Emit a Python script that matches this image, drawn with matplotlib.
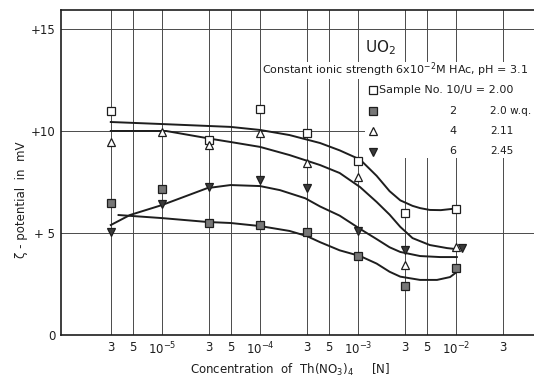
import numpy as np
import matplotlib
matplotlib.use("Agg")
import matplotlib.pyplot as plt
from matplotlib.patches import Rectangle

INK = "#1e1e1e"
GRIDC = "#4a4a4a"

# ── measured points (concentration [N], zeta potential [mV]) ──────────────
conc_pts = [3e-6, 1e-5, 3e-5, 1e-4, 3e-4, 1e-3, 3e-3, 1e-2]
s10_open_sq = [10.98, None, 9.55, 11.1, 9.9, 8.55, 5.98, 6.2]
s2_filled_sq = [6.47, 7.16, 5.49, 5.39, 5.05, 3.87, 2.4, 3.28]
s4_up_tri = [9.46, 9.95, 9.3, 9.9, 8.43, 7.75, 3.43, 4.31]
s6_down_tri = [5.05, 6.42, 7.25, 7.6, 7.2, 5.1, 4.17, 4.26]
s6_conc = [3e-6, 1e-5, 3e-5, 1e-4, 3e-4, 1e-3, 3e-3, 1.15e-2]

# ── hand-drawn trend curves ──────────────────────────────────────────────
c10_x = [3e-6, 1e-5, 5e-5, 1e-4, 2e-4, 4.1e-4, 6.5e-4, 1.05e-3, 1.55e-3,
         2.1e-3, 2.7e-3, 3.6e-3, 4.3e-3, 5.4e-3, 7e-3, 9.1e-3]
c10_y = [10.44, 10.34, 10.2, 10.05, 9.8, 9.41, 9.05, 8.6, 7.8,
         7.05, 6.6, 6.33, 6.22, 6.13, 6.12, 6.18]
c4_x = [3e-6, 1.1e-5, 3.3e-5, 5e-5, 1e-4, 2e-4, 4.1e-4, 6.5e-4, 1.05e-3,
        1.55e-3, 2.1e-3, 2.7e-3, 3.6e-3, 5.4e-3, 8.1e-3, 1.05e-2]
c4_y = [10.0, 10.0, 9.6, 9.46, 9.22, 8.82, 8.33, 7.94, 7.25,
        6.52, 5.9, 5.3, 4.75, 4.41, 4.26, 4.2]
c6_x = [3e-6, 4.7e-6, 1e-5, 1.65e-5, 2.9e-5, 5e-5, 1e-4, 1.6e-4, 2.9e-4,
        4.1e-4, 6.5e-4, 1.05e-3, 1.55e-3, 2.1e-3, 2.7e-3, 4.3e-3, 6.9e-3, 1.02e-2]
c6_y = [5.39, 5.88, 6.37, 6.76, 7.2, 7.35, 7.3, 7.1, 6.7,
        6.3, 5.85, 5.2, 4.7, 4.3, 4.07, 3.87, 3.82, 3.82]
c2_x = [3.6e-6, 1e-5, 2.9e-5, 5e-5, 1e-4, 2e-4, 3e-4, 4.1e-4, 6.5e-4,
        1.05e-3, 1.55e-3, 2.1e-3, 2.7e-3, 4.3e-3, 6.4e-3, 8.7e-3, 1.02e-2]
c2_y = [5.88, 5.73, 5.54, 5.49, 5.34, 5.1, 4.85, 4.55, 4.15,
        3.87, 3.5, 3.1, 2.86, 2.7, 2.7, 2.84, 3.09]

xticks = [3e-6, 5e-6, 1e-5, 3e-5, 5e-5, 1e-4, 3e-4, 5e-4, 1e-3,
          3e-3, 5e-3, 1e-2, 3e-2]
xtick_labels = ["3", "5", "$10^{-5}$", "3", "5", "$10^{-4}$", "3", "5",
                "$10^{-3}$", "3", "5", "$10^{-2}$", "3"]
yticks = [0, 5, 10, 15]
ytick_labels = ["0", "+ 5", "+10", "+15"]

W, H = 534, 381
fig = plt.figure(figsize=(W / 100, H / 100), dpi=100, facecolor="white")
ax = fig.add_axes([61 / W, 46 / H, 1 - 61 / W, (335 - 10) / H])

ax.set_xscale("log")
ax.set_xlim(10 ** -6.031, 10 ** -1.204)
ax.set_ylim(0, 15.93)
ax.minorticks_off()
ax.set_xticks(xticks)
ax.set_xticklabels(xtick_labels, fontsize=8.5, color=INK)
ax.set_yticks(yticks)
ax.set_yticklabels(ytick_labels, fontsize=8.5, color=INK)
ax.tick_params(length=0, pad=4)
ax.grid(True, color=GRIDC, linewidth=0.7, zorder=1)
for side in ("left", "bottom", "top"):
    ax.spines[side].set_color(INK)
    ax.spines[side].set_linewidth(1.2)
ax.spines["right"].set_visible(False)

# curves
for cx, cy in ((c10_x, c10_y), (c4_x, c4_y), (c6_x, c6_y), (c2_x, c2_y)):
    ax.plot(cx, cy, color=INK, linewidth=1.4, zorder=3,
            solid_joinstyle="round")


def pts(xs, ys):
    keep = [(a, b) for a, b in zip(xs, ys) if b is not None]
    return [a for a, _ in keep], [b for _, b in keep]


ms = 5.5
x, y = pts(conc_pts, s10_open_sq)
ax.plot(x, y, "s", ms=ms, mfc="white", mec=INK, mew=0.9, ls="none", zorder=4)
x, y = pts(conc_pts, s2_filled_sq)
ax.plot(x, y, "s", ms=ms, mfc="#777777", mec=INK, mew=0.9, ls="none", zorder=4)
x, y = pts(conc_pts, s4_up_tri)
ax.plot(x, y, "^", ms=ms + 0.5, mfc="white", mec=INK, mew=0.9, ls="none", zorder=4)
x, y = pts(s6_conc, s6_down_tri)
ax.plot(x, y, "v", ms=ms + 0.5, mfc="#3a3a3a", mec=INK, mew=0.9, ls="none", zorder=4)

# ── legend block (white-out over grid) ──────────────────────────────────
def fx(px):
    return (px - 61) / (W - 61)


def fy(py):
    return (335 - py) / (335 - 10)


ax.add_patch(Rectangle((fx(262), fy(79)), fx(534) - fx(262), fy(62) - fy(79),
                       transform=ax.transAxes, facecolor="white",
                       edgecolor="none", zorder=2))
ax.add_patch(Rectangle((fx(365), fy(158)), fx(534) - fx(365), fy(79) - fy(158),
                       transform=ax.transAxes, facecolor="white",
                       edgecolor="none", zorder=2))

ax.text(fx(365), fy(48), "UO$_2$", transform=ax.transAxes, fontsize=11,
        color=INK, va="center", ha="left", zorder=5)
ax.text(fx(262), fy(70), "Constant ionic strength 6x10$^{-2}$M HAc, pH = 3.1",
        transform=ax.transAxes, fontsize=8.0, color=INK, va="center",
        ha="left", zorder=5)

rows = [("s", "white", "Sample No. 10/U = 2.00", None, None),
        ("s", "#777777", None, "2", "2.0 w.q."),
        ("^", "white", None, "4", "2.11"),
        ("v", "#3a3a3a", None, "6", "2.45")]
for i, (mk, fc, head, num, ratio) in enumerate(rows):
    py = 90 + i * 20.5
    ax.plot([fx(373)], [fy(py)], mk, ms=5.5, mfc=fc, mec=INK, mew=0.9,
            transform=ax.transAxes, zorder=5, clip_on=False)
    if head:
        ax.text(fx(379), fy(py), head, transform=ax.transAxes, fontsize=8,
                color=INK, va="center", ha="left", zorder=5)
    else:
        ax.text(fx(453), fy(py), num, transform=ax.transAxes, fontsize=8,
                color=INK, va="center", ha="center", zorder=5)
        ax.text(fx(490), fy(py), ratio, transform=ax.transAxes, fontsize=7.6,
                color=INK, va="center", ha="left", zorder=5)

# ── axis titles ─────────────────────────────────────────────────────────
fig.text(290 / W, 1 - 370 / H, "Concentration  of  Th(NO$_3$)$_4$     [N]",
         fontsize=8.5, color=INK, ha="center", va="center")
fig.text(22 / W, 1 - 200 / H, "ζ - potential  in  mV", rotation=90,
         fontsize=8.5, color=INK, ha="center", va="center")

fig.savefig("out.png", dpi=100, facecolor="white")
